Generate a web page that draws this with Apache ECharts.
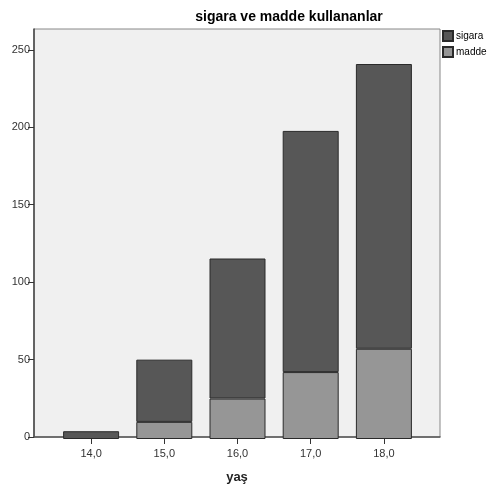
<!DOCTYPE html>
<html><head><meta charset="utf-8">
<script src="https://cdn.jsdelivr.net/npm/echarts@6/dist/echarts.min.js"></script>
<style>html,body{margin:0;padding:0;background:#fff}#c{width:488px;height:489px}</style>
</head><body><div id="c"></div>
<script>
const ageLabels = ['14,0', '15,0', '16,0', '17,0', '18,0'];
const madde = [0, 11, 26, 43, 58];
const sigara = [5, 40, 90, 155, 183];
const yTicks = [0, 50, 100, 150, 200, 250];

const chart = echarts.init(document.getElementById('c'));
const font = 'Arial, "Liberation Sans", sans-serif';
const yMax = 263.5;
const hideZero = v => v === 0 ? {value: v, itemStyle: {borderWidth: 0, opacity: 0}} : v;
chart.setOption({
  animation: false,
  title: {text: 'sigara ve madde kullananlar', left: 284, top: 5, textAlign: 'center',
    textStyle: {fontFamily: font, fontSize: 14, fontWeight: 'bold', color: '#000'}},
  legend: {left: 442, top: 30, padding: 0, orient: 'vertical', itemWidth: 10, itemHeight: 10, itemGap: 4,
    icon: 'rect', textStyle: {fontFamily: font, fontSize: 10, color: '#000', padding: [0,0,0,-2]},
    data: ['sigara', 'madde']},
  grid: [
    {left: 34, top: 29, right: 48, bottom: 50, show: true, backgroundColor: '#f0f0f0',
      borderColor: '#888', borderWidth: 1},
    {left: 54.5, top: 29, right: 67.5, bottom: 50}
  ],
  xAxis: [
    {gridIndex: 0, type: 'value', min: 0, max: 1,
      name: 'yaş', nameLocation: 'middle', nameGap: 34,
      nameTextStyle: {fontFamily: font, fontSize: 13, fontWeight: 'bold', color: '#222'},
      axisLine: {show: true, lineStyle: {color: '#555', width: 1.5}},
      axisTick: {show: false}, axisLabel: {show: false}, splitLine: {show: false}},
    {gridIndex: 1, type: 'category', data: ageLabels,
      axisLine: {show: false},
      axisTick: {show: true, alignWithLabel: true, length: 5, lineStyle: {color: '#333'}},
      axisLabel: {fontFamily: font, fontSize: 11, color: '#333', margin: 9},
      splitLine: {show: false}}
  ],
  yAxis: [
    {gridIndex: 0, type: 'value', min: 0, max: yMax,
      axisLine: {show: true, lineStyle: {color: '#444', width: 1.5}},
      axisTick: {show: true, length: 6, customValues: yTicks, lineStyle: {color: '#333'}},
      axisLabel: {customValues: yTicks, fontFamily: font, fontSize: 11, color: '#333', margin: 4},
      splitLine: {show: false}},
    {gridIndex: 1, type: 'value', min: 0, max: yMax, show: false, splitLine: {show: false}}
  ],
  series: [
    {name: 'madde', type: 'bar', stack: 's', barWidth: 56, xAxisIndex: 1, yAxisIndex: 1,
      data: madde.map(hideZero),
      itemStyle: {color: '#969696', borderColor: '#2a2a2a', borderWidth: 1}},
    {name: 'sigara', type: 'bar', stack: 's', barWidth: 56, xAxisIndex: 1, yAxisIndex: 1,
      data: sigara.map(hideZero),
      itemStyle: {color: '#575757', borderColor: '#2a2a2a', borderWidth: 1}}
  ]
});
</script></body></html>
